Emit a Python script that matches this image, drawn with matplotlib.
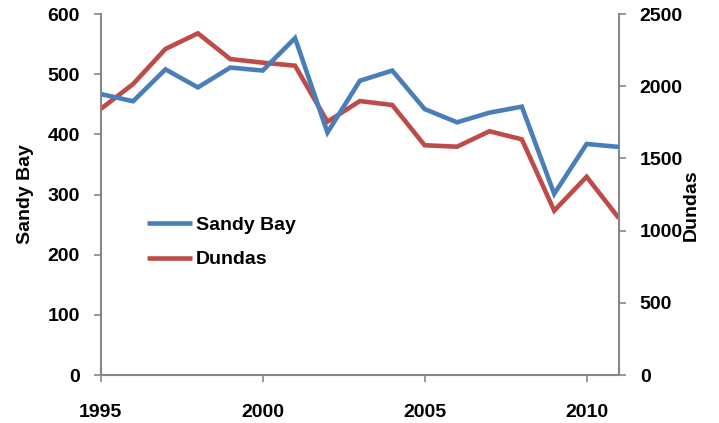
import matplotlib
matplotlib.use("Agg")
import matplotlib.pyplot as plt

years = list(range(1995, 2012))
sandy_bay = [467, 455, 508, 478, 511, 506, 560, 403, 489, 506, 442, 420, 436, 446, 301, 384, 379]
dundas = [1842, 2015, 2258, 2366, 2188, 2163, 2142, 1754, 1897, 1870, 1591, 1581, 1688, 1632, 1138, 1373, 1085]

left_ticks = [0, 100, 200, 300, 400, 500, 600]
right_ticks = [0, 500, 1000, 1500, 2000, 2500]
x_ticks = [1995, 2000, 2005, 2010]

plt.rcParams['font.family'] = ['Liberation Sans', 'DejaVu Sans']
plt.rcParams['font.weight'] = 'bold'

blue = '#4A7EBB'
red = '#BE4B48'
grey = '#888888'

fig = plt.figure(figsize=(7.19, 4.23), dpi=100)
ax = fig.add_axes([100.7/719, 1-375/423, (619-100.7)/719, (375-14)/423])
ax2 = ax.twinx()

l1, = ax.plot(years, sandy_bay, color=blue, lw=3.3, solid_capstyle='butt', solid_joinstyle='miter')
l2, = ax2.plot(years, dundas, color=red, lw=3.3, solid_capstyle='butt', solid_joinstyle='miter')
ax.set_zorder(ax2.get_zorder() + 1)
ax.patch.set_visible(False)

ax.set_xlim(1995, 2011)
ax.set_ylim(0, 600)
ax2.set_ylim(0, 2500)
ax.set_xticks(x_ticks)
ax.set_yticks(left_ticks)
ax2.set_yticks(right_ticks)

for a in (ax, ax2):
    a.spines['top'].set_visible(False)
    for s in ('left', 'right', 'bottom'):
        a.spines[s].set_color(grey)
        a.spines[s].set_linewidth(1.5)
    a.tick_params(direction='out', length=5, width=1.2, color=grey, labelsize=14, pad=10)
ax2.spines['left'].set_visible(False)
ax2.spines['bottom'].set_visible(False)
ax.spines['right'].set_visible(False)
ax.tick_params(axis='x', pad=16)

for lab in ax.get_xticklabels() + ax.get_yticklabels() + ax2.get_yticklabels():
    lab.set_fontweight('bold')

ax.set_ylabel('Sandy Bay', fontsize=14, fontweight='bold')
ax.yaxis.set_label_coords((34-100.7)/518.3, 0.5)
ax2.set_ylabel('Dundas', fontsize=14, fontweight='bold')
ax2.yaxis.set_label_coords((683-100.7)/518.3, (375-205)/361)

leg = ax.legend([l1, l2], ['Sandy Bay', 'Dundas'], loc='center left',
                bbox_to_anchor=(147/719, 1-242.5/423), bbox_transform=fig.transFigure,
                frameon=False, fontsize=14, handlelength=2.3, handletextpad=0.2,
                labelspacing=0.85, borderpad=0, borderaxespad=0)
for t in leg.get_texts():
    t.set_fontweight('bold')

fig.savefig('out.png', dpi=100)
